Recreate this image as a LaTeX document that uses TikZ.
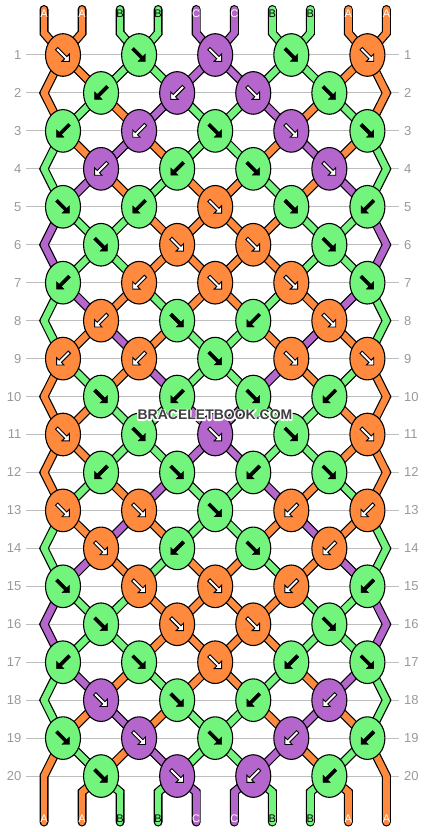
\documentclass[tikz,border=0pt]{standalone}
\usepackage{fontspec}
\setmainfont{Liberation Sans}
\usetikzlibrary{calc,shapes.geometric}

\definecolor{strO}{HTML}{FF8A3D}
\definecolor{strG}{HTML}{73F57D}
\definecolor{strP}{HTML}{B466CC}
\definecolor{rowgray}{HTML}{BDBDBD}
\definecolor{numgray}{HTML}{999999}
\definecolor{wmgray}{HTML}{404040}

\def\knotarrow[#1]{\draw[#1] (-9,-1.6) -- (3.8,-1.6) -- (3.8,-5.2) -- (9,0) -- (3.8,5.2) -- (3.8,1.6) -- (-9,1.6) -- cycle;}
\def\halotext#1{\rlap{\special{pdf:literal 1 Tr 2.6 w 1 j}\textcolor{white}{#1}\special{pdf:literal 0 Tr 0.4 w}}\textcolor{wmgray}{#1}}

\tikzset{
	knot/.style={ellipse, draw=black, line width=1.1pt, minimum width=35pt, minimum height=42.6pt, inner sep=0pt},
	arrO/.style={fill=white, draw=black, line width=0.9pt},
	arrP/.style={fill=white, draw=black, line width=0.9pt},
	arrG/.style={fill=black, draw=black, line width=0.4pt},
	rotF/.style={rotate=-45},
	rotB/.style={rotate=-135},
	labO/.style={text=white},
	labP/.style={text=white},
	labG/.style={text=black},
	rownum/.style={text=numgray, font=\fontsize{13}{13}\selectfont, inner sep=0pt},
	endlab/.style={font=\fontsize{11}{11}\selectfont, inner sep=0pt},
	wm/.style={font=\bfseries\fontsize{14}{14}\selectfont, inner sep=0pt}
}

\begin{document}
\begin{tikzpicture}[x=1pt, y=-1pt]
			\useasboundingbox (0,0) rectangle (430,832);
			%%%%% START %%%%%
			
			% row lines
			\foreach \r in {1,...,20}{
				\pgfmathsetmacro\ry{55+(\r-1)*37.95}
				\draw[rowgray, line width=1pt] (26,\ry) -- (399,\ry);
				\node[rownum, anchor=east] (numl-\r) at (21.5,\ry) {\r};
				\node[rownum, anchor=west] (numr-\r) at (404,\ry) {\r};
			}
			
			% string points
			\foreach \p in {0,...,9}{
				\pgfmathsetmacro\sx{44+38.05*\p}
				\coordinate (top-\p) at (\sx,9.5);
				\coordinate (c-0-\p) at (\sx,33);
				\coordinate (c-21-\p) at (\sx,792);
				\coordinate (bot-\p) at (\sx,822);
			}
			\foreach \r in {1,3,...,19}{
				\pgfmathsetmacro\ry{55+(\r-1)*37.95}
				\foreach \p in {0,...,9}{
					\pgfmathsetmacro\kx{63+76.1*int(\p/2)}
					\coordinate (c-\r-\p) at (\kx,\ry);
				}
			}
			\foreach \r in {2,4,...,20}{
				\pgfmathsetmacro\ry{55+(\r-1)*37.95}
				\coordinate (c-\r-0) at (44,\ry);
				\coordinate (c-\r-9) at (386.45,\ry);
				\foreach \p in {1,...,8}{
					\pgfmathsetmacro\kx{101.05+76.1*int((\p-1)/2)}
					\coordinate (c-\r-\p) at (\kx,\ry);
				}
			}
			
			% outlines
			\foreach \p in {0,...,9}{
				\draw[line width=9pt, line cap=round, line join=miter] (top-\p) -- (c-0-\p) \foreach \r in {1,...,21}{ -- (c-\r-\p)} -- (bot-\p);
			}
			
			% coloured strings
			\foreach \t/\c [count=\p from 0] in {A/O,A/O,B/G,B/G,C/P,C/P,B/G,B/G,A/O,A/O}{
				\draw[str\c, line width=6.6pt, line cap=round] (top-\p) -- (c-0-\p);
				\draw[str\c, line width=6.6pt, line cap=round] (c-21-\p) -- (bot-\p);
			}
			\foreach \s [count=\r from 0] in {
				{O,O,G,G,P,P,G,G,O,O},{O,O,G,G,P,P,G,G,O,O},{O,G,O,P,G,G,P,O,G,O},
				{G,O,P,O,G,G,O,P,O,G},{G,P,O,G,O,O,G,O,P,G},{P,G,G,O,O,O,O,G,G,P},
				{P,G,G,O,O,O,O,G,G,P},{G,P,O,G,O,O,G,O,P,G},{G,O,P,O,G,G,O,P,O,G},
				{O,G,O,P,G,G,P,O,G,O},{O,O,G,G,P,P,G,G,O,O},{O,O,G,G,P,P,G,G,O,O},
				{O,G,O,P,G,G,P,O,G,O},{G,O,P,O,G,G,O,P,O,G},{G,P,O,G,O,O,G,O,P,G},
				{P,G,G,O,O,O,O,G,G,P},{P,G,G,O,O,O,O,G,G,P},{G,P,O,G,O,O,G,O,P,G},
				{G,O,P,O,G,G,O,P,O,G},{O,G,O,P,G,G,P,O,G,O},{O,O,G,G,P,P,G,G,O,O}}{
				\pgfmathtruncatemacro\rn{\r+1}
				\foreach \c [count=\p from 0] in \s {
					\draw[str\c, line width=6.6pt, line cap=round] (c-\r-\p) -- (c-\rn-\p);
				}
			}
			
			% knots
			\foreach \row [count=\r] in {
				{O/F,G/F,P/F,G/F,O/F},{G/B,P/B,P/F,G/F},{G/B,P/B,G/F,P/F,G/F},{P/B,G/B,G/F,P/F},
				{G/F,G/B,O/F,G/F,G/B},{G/F,O/F,O/F,G/F},{G/B,O/B,O/F,O/F,G/F},{O/B,G/F,G/B,O/F},
				{O/B,O/B,G/F,O/F,O/F},{G/F,G/B,G/F,G/B},{O/F,G/F,P/F,G/F,O/F},{G/B,G/F,G/B,G/F},
				{O/F,O/F,G/F,O/B,O/B},{O/F,G/B,G/F,O/B},{G/F,O/F,O/F,O/B,G/B},{G/F,O/F,O/F,G/F},
				{G/B,G/F,O/F,G/B,G/F},{P/F,G/F,G/B,P/B},{G/F,P/F,G/F,P/B,G/B},{G/F,P/F,P/B,G/B}}{
				\pgfmathsetmacro\ry{55+(\r-1)*37.95}
				\pgfmathsetmacro\xo{isodd(\r) ? 63 : 101.05}
				\foreach \c/\d [count=\k from 0] in \row {
					\node[knot, fill=str\c] (k-\r-\k) at (\xo+76.1*\k,\ry) {};
					\knotarrow[shift={(k-\r-\k)}, rot\d, arr\c]
				}
			}
			
			% string ends
			\foreach \t/\c [count=\p from 0] in {A/O,A/O,B/G,B/G,C/P,C/P,B/G,B/G,A/O,A/O}{
				\node[endlab, lab\c] (lt-\p) at ($(top-\p)+(0,4)$) {\t};
				\node[endlab, lab\c] (lb-\p) at ($(bot-\p)+(0,-3)$) {\t};
			}
			
			% watermark
			\node[wm] (wm) at (215,415) {\halotext{BRACELETBOOK.COM}};
			
			%%%%% END %%%%%
\end{tikzpicture}
\end{document}
